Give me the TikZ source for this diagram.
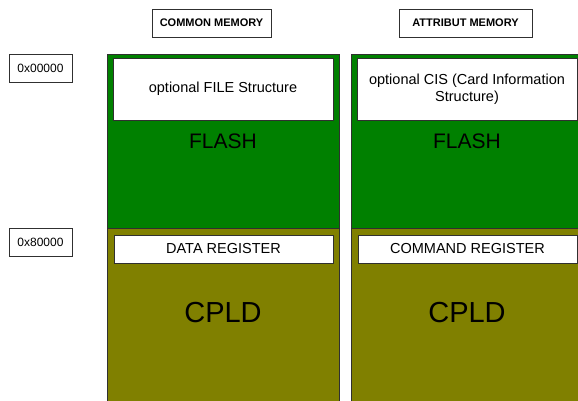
\documentclass[tikz,border=0pt]{standalone}
\usepackage{fontspec}
\setmainfont{Liberation Sans}
\usepackage{xcolor}
\usepackage{tikz}
\definecolor{mmgreen}{HTML}{008000}
\definecolor{mmolive}{HTML}{808000}
\definecolor{mmedge}{HTML}{303030}
\tikzset{
  hdrbox/.style={draw=mmedge, line width=0.9pt, fill=white, minimum height=28pt, inner sep=1pt, font=\fontsize{11}{13}\selectfont\bfseries},
  addrbox/.style={draw=mmedge, line width=0.9pt, fill=white, minimum width=63pt, minimum height=28pt, inner sep=1pt, font=\fontsize{12}{14}\selectfont},
  flashbox/.style={draw=mmedge, line width=1pt, fill=mmgreen, minimum width=232pt, minimum height=173pt, inner sep=0pt, font=\fontsize{21}{24}\selectfont},
  cpldbox/.style={draw=mmedge, line width=1pt, fill=mmolive, minimum width=232pt, minimum height=182pt, inner sep=0pt},
  cpldtext/.style={font=\fontsize{29}{32}\selectfont, inner sep=0pt},
  infobox/.style={draw=mmedge, line width=0.9pt, fill=white, minimum width=220pt, minimum height=62pt, inner sep=1pt, align=center, font=\fontsize{14.5}{17}\selectfont},
  regbox/.style={draw=mmedge, line width=0.9pt, fill=white, minimum width=219pt, minimum height=28pt, inner sep=1pt, font=\fontsize{14.5}{17}\selectfont}
}

\begin{document}
\begin{tikzpicture}[x=1pt, y=-1pt]
  \clip (0,0) rectangle (578,401);
  % column headers
  \node[hdrbox, minimum width=119pt] (commonhead) at (211.5,23) {COMMON MEMORY};
  \node[hdrbox, minimum width=133pt] (attribhead) at (465.5,23) {ATTRIBUT MEMORY};
  % addresses
  \node[addrbox] (addrlow) at (40.5,68) {0x00000};
  \node[addrbox] (addrhigh) at (40.5,242) {0x80000};
  % common memory
  \node[flashbox] (commonflash) at (223,141.5) {FLASH};
  \node[cpldbox, label={[cpldtext, yshift=6pt]center:CPLD}] (commoncpld) at (223,319) {};
  \node[infobox] (filebox) at (223,89) {optional FILE Structure};
  \node[regbox] (databox) at (223.5,249) {DATA REGISTER};
  % attribute memory
  \node[flashbox] (attribflash) at (467,141.5) {FLASH};
  \node[cpldbox, label={[cpldtext, yshift=6pt]center:CPLD}] (attribcpld) at (467,319) {};
  \node[infobox] (cisbox) at (467,89) {optional CIS (Card Information\\Structure)};
  \node[regbox] (cmdbox) at (467.5,249) {COMMAND REGISTER};
\end{tikzpicture}
\end{document}
